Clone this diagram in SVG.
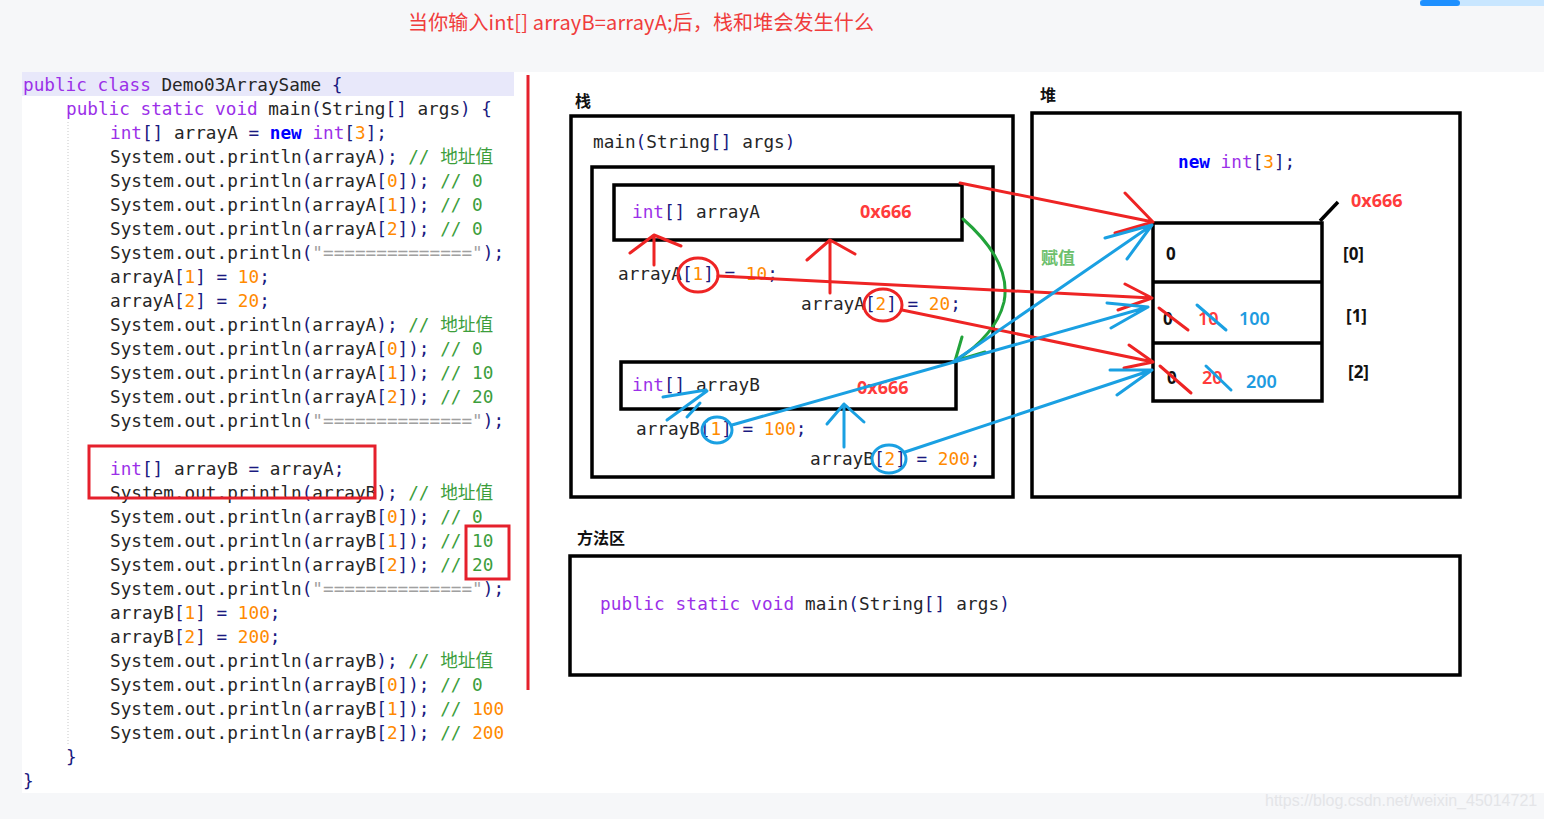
<svg xmlns="http://www.w3.org/2000/svg" width="1544" height="819" viewBox="0 0 1544 819">
<style>
.code{font-family:"DejaVu Sans Mono","Liberation Mono","Noto Sans CJK SC",monospace;font-size:17.7px;fill:#262626;white-space:pre}
.k{fill:#9b30e8}.n{fill:#1a1a80}.o{fill:#ff8a00}.c{fill:#3c9e3c}.s{fill:#a0a0a0}.nw{fill:#0000ff;font-weight:bold}
.box{fill:none;stroke:#000;stroke-width:3.5}
.lbl{font-family:"Noto Sans CJK SC",sans-serif;font-weight:bold;font-size:16px;fill:#111}
.hex{font-family:"Noto Sans","Liberation Sans",sans-serif;font-weight:bold;font-size:18px;fill:#ff3b3b}
.cell{font-family:"Noto Sans","Liberation Sans",sans-serif;font-weight:bold;font-size:17px;fill:#111}
.bl{font-family:"Noto Sans","Liberation Sans",sans-serif;font-size:18px;fill:#1e9be0;font-weight:600}
.rd{font-family:"Noto Sans","Liberation Sans",sans-serif;font-size:18px;fill:#ff3b3b;font-weight:600}
.r{fill:none;stroke:#ee2424;stroke-width:3;stroke-linecap:round;stroke-linejoin:round}
.b{fill:none;stroke:#1aa0e2;stroke-width:3;stroke-linecap:round;stroke-linejoin:round}
.g{fill:none;stroke:#22a33a;stroke-width:3;stroke-linecap:round;stroke-linejoin:round}
.rb{fill:none;stroke:#e5202c;stroke-width:3}
</style>
<defs><clipPath id="cc"><rect x="0" y="60" width="509" height="740"/></clipPath></defs>
<rect x="0" y="0" width="1544" height="819" fill="#f6f7f9"/>
<rect x="22" y="72" width="1522" height="721" fill="#ffffff"/>
<rect x="1420" y="0" width="124" height="6" fill="#c8e6ff"/>
<rect x="1420" y="0" width="40" height="6" rx="3" fill="#1e90ff"/>
<text x="1265" y="806" font-family="Liberation Sans,sans-serif" font-size="16" fill="#e4e5e8">https://blog.csdn.net/weixin_45014721</text>

<g id="title"><text x="408" y="30" font-family="'Noto Sans CJK SC',sans-serif" font-size="20" fill="#f03c3c" textLength="466">当你输入int[] arrayB=arrayA;后，栈和堆会发生什么</text></g>

<rect x="22" y="72" width="492" height="24" fill="#e8e8fa"/>
<g id="code" clip-path="url(#cc)">
<line x1="68" y1="122" x2="68" y2="745" stroke="#c8c8c8" stroke-width="1" stroke-dasharray="1,2"/>
<text class="code" x="23" y="91"><tspan class="k">public class</tspan> Demo03ArraySame <tspan class="n">{</tspan></text>
<text class="code" x="66" y="115"><tspan class="k">public static void</tspan> main<tspan class="n">(</tspan>String<tspan class="n">[]</tspan> args<tspan class="n">) {</tspan></text>
<text class="code" x="110" y="139"><tspan class="k">int</tspan><tspan class="n">[]</tspan> arrayA <tspan class="n">=</tspan> <tspan class="nw">new</tspan> <tspan class="k">int</tspan><tspan class="n">[</tspan><tspan class="o">3</tspan><tspan class="n">];</tspan></text>
<text class="code" x="110" y="163">System.out.println<tspan class="n">(</tspan>arrayA<tspan class="n">);</tspan> <tspan class="c">// 地址值</tspan></text>
<text class="code" x="110" y="187">System.out.println<tspan class="n">(</tspan>arrayA<tspan class="n">[</tspan><tspan class="o">0</tspan><tspan class="n">]);</tspan> <tspan class="c">// 0</tspan></text>
<text class="code" x="110" y="211">System.out.println<tspan class="n">(</tspan>arrayA<tspan class="n">[</tspan><tspan class="o">1</tspan><tspan class="n">]);</tspan> <tspan class="c">// 0</tspan></text>
<text class="code" x="110" y="235">System.out.println<tspan class="n">(</tspan>arrayA<tspan class="n">[</tspan><tspan class="o">2</tspan><tspan class="n">]);</tspan> <tspan class="c">// 0</tspan></text>
<text class="code" x="110" y="259">System.out.println<tspan class="n">(</tspan><tspan class="s">"=============="</tspan><tspan class="n">);</tspan></text>
<text class="code" x="110" y="283">arrayA<tspan class="n">[</tspan><tspan class="o">1</tspan><tspan class="n">]</tspan> <tspan class="n">=</tspan> <tspan class="o">10</tspan><tspan class="n">;</tspan></text>
<text class="code" x="110" y="307">arrayA<tspan class="n">[</tspan><tspan class="o">2</tspan><tspan class="n">]</tspan> <tspan class="n">=</tspan> <tspan class="o">20</tspan><tspan class="n">;</tspan></text>
<text class="code" x="110" y="331">System.out.println<tspan class="n">(</tspan>arrayA<tspan class="n">);</tspan> <tspan class="c">// 地址值</tspan></text>
<text class="code" x="110" y="355">System.out.println<tspan class="n">(</tspan>arrayA<tspan class="n">[</tspan><tspan class="o">0</tspan><tspan class="n">]);</tspan> <tspan class="c">// 0</tspan></text>
<text class="code" x="110" y="379">System.out.println<tspan class="n">(</tspan>arrayA<tspan class="n">[</tspan><tspan class="o">1</tspan><tspan class="n">]);</tspan> <tspan class="c">// 10</tspan></text>
<text class="code" x="110" y="403">System.out.println<tspan class="n">(</tspan>arrayA<tspan class="n">[</tspan><tspan class="o">2</tspan><tspan class="n">]);</tspan> <tspan class="c">// 20</tspan></text>
<text class="code" x="110" y="427">System.out.println<tspan class="n">(</tspan><tspan class="s">"=============="</tspan><tspan class="n">);</tspan></text>
<text class="code" x="110" y="475"><tspan class="k">int</tspan><tspan class="n">[]</tspan> arrayB <tspan class="n">=</tspan> arrayA<tspan class="n">;</tspan></text>
<text class="code" x="110" y="499">System.out.println<tspan class="n">(</tspan>arrayB<tspan class="n">);</tspan> <tspan class="c">// 地址值</tspan></text>
<text class="code" x="110" y="523">System.out.println<tspan class="n">(</tspan>arrayB<tspan class="n">[</tspan><tspan class="o">0</tspan><tspan class="n">]);</tspan> <tspan class="c">// 0</tspan></text>
<text class="code" x="110" y="547">System.out.println<tspan class="n">(</tspan>arrayB<tspan class="n">[</tspan><tspan class="o">1</tspan><tspan class="n">]);</tspan> <tspan class="c">// 10</tspan></text>
<text class="code" x="110" y="571">System.out.println<tspan class="n">(</tspan>arrayB<tspan class="n">[</tspan><tspan class="o">2</tspan><tspan class="n">]);</tspan> <tspan class="c">// 20</tspan></text>
<text class="code" x="110" y="595">System.out.println<tspan class="n">(</tspan><tspan class="s">"=============="</tspan><tspan class="n">);</tspan></text>
<text class="code" x="110" y="619">arrayB<tspan class="n">[</tspan><tspan class="o">1</tspan><tspan class="n">]</tspan> <tspan class="n">=</tspan> <tspan class="o">100</tspan><tspan class="n">;</tspan></text>
<text class="code" x="110" y="643">arrayB<tspan class="n">[</tspan><tspan class="o">2</tspan><tspan class="n">]</tspan> <tspan class="n">=</tspan> <tspan class="o">200</tspan><tspan class="n">;</tspan></text>
<text class="code" x="110" y="667">System.out.println<tspan class="n">(</tspan>arrayB<tspan class="n">);</tspan> <tspan class="c">// 地址值</tspan></text>
<text class="code" x="110" y="691">System.out.println<tspan class="n">(</tspan>arrayB<tspan class="n">[</tspan><tspan class="o">0</tspan><tspan class="n">]);</tspan> <tspan class="c">// 0</tspan></text>
<text class="code" x="110" y="715">System.out.println<tspan class="n">(</tspan>arrayB<tspan class="n">[</tspan><tspan class="o">1</tspan><tspan class="n">]);</tspan> <tspan class="c">// </tspan><tspan class="o">100</tspan></text>
<text class="code" x="110" y="739">System.out.println<tspan class="n">(</tspan>arrayB<tspan class="n">[</tspan><tspan class="o">2</tspan><tspan class="n">]);</tspan> <tspan class="c">// </tspan><tspan class="o">200</tspan></text>
<text class="code" x="66" y="763"><tspan class="n">}</tspan></text>
<text class="code" x="23" y="787"><tspan class="n">}</tspan></text>
</g>
<g id="highlights">
<rect class="rb" x="89" y="446" width="286" height="52"/>
<rect class="rb" x="466" y="526" width="43" height="53"/>
<line x1="528" y1="75" x2="528" y2="690" stroke="#e5202c" stroke-width="3"/>
</g>

<g id="stack">
<text class="lbl" x="575" y="107">栈</text>
<rect class="box" x="571" y="116" width="442" height="381"/>
<text class="code" x="593" y="148">main<tspan class="n">(</tspan>String<tspan class="n">[]</tspan> args<tspan class="n">)</tspan></text>
</g>
<g id="stackFrame">
<rect class="box" x="592" y="167" width="401" height="310"/>
<text class="code" x="618" y="280">arrayA<tspan class="n">[</tspan><tspan class="o">1</tspan><tspan class="n">]</tspan> <tspan class="n">=</tspan> <tspan class="o">10</tspan><tspan class="n">;</tspan></text>
<text class="code" x="801" y="310">arrayA<tspan class="n">[</tspan><tspan class="o">2</tspan><tspan class="n">]</tspan> <tspan class="n">=</tspan> <tspan class="o">20</tspan><tspan class="n">;</tspan></text>
<text class="code" x="636" y="435">arrayB<tspan class="n">[</tspan><tspan class="o">1</tspan><tspan class="n">]</tspan> <tspan class="n">=</tspan> <tspan class="o">100</tspan><tspan class="n">;</tspan></text>
<text class="code" x="810" y="465">arrayB<tspan class="n">[</tspan><tspan class="o">2</tspan><tspan class="n">]</tspan> <tspan class="n">=</tspan> <tspan class="o">200</tspan><tspan class="n">;</tspan></text>
</g>
<g id="arrayA">
<rect class="box" x="614" y="185" width="348" height="55"/>
<text class="code" x="632" y="218"><tspan class="k">int</tspan><tspan class="n">[]</tspan> arrayA</text>
<text class="hex" x="860" y="218">0x666</text>
</g>
<g id="arrayB">
<rect class="box" x="621" y="362" width="335" height="47"/>
<text class="code" x="632" y="391"><tspan class="k">int</tspan><tspan class="n">[]</tspan> arrayB</text>
<text class="hex" x="857" y="394">0x666</text>
</g>

<g id="heap">
<text class="lbl" x="1040" y="101">堆</text>
<rect class="box" x="1032" y="113" width="428" height="384"/>
<text class="code" x="1178" y="168"><tspan class="nw">new</tspan> <tspan class="k">int</tspan><tspan class="n">[</tspan><tspan class="o">3</tspan><tspan class="n">];</tspan></text>
<text x="1041" y="264" font-family="'Noto Sans CJK SC',sans-serif" font-weight="bold" font-size="17" fill="#6cc06c">赋值</text>
</g>
<g id="heapArray">
<rect class="box" x="1153" y="223" width="169" height="178"/>
<line x1="1153" y1="282" x2="1322" y2="282" stroke="#000" stroke-width="3.5"/>
<line x1="1153" y1="343" x2="1322" y2="343" stroke="#000" stroke-width="3.5"/>
<line x1="1320" y1="221" x2="1338" y2="202" stroke="#000" stroke-width="3.5"/>
<text class="hex" x="1351" y="207">0x666</text>
<text class="cell" x="1166" y="260">0</text>
<text class="cell" x="1343" y="260">[0]</text>
<text class="cell" x="1346" y="322">[1]</text>
<text class="cell" x="1348" y="378">[2]</text>
<text class="cell" x="1163" y="325">0</text>
<text class="rd" x="1198" y="325">10</text>
<text class="bl" x="1239" y="325">100</text>
<text class="cell" x="1167" y="384">0</text>
<text class="rd" x="1202" y="384">20</text>
<text class="bl" x="1246" y="388">200</text>
<path class="r" d="M1159 308 L1188 330 M1160 366 L1191 393"/>
<path class="b" d="M1197 305 L1226 330 M1206 366 L1231 390"/>
</g>

<g id="methodArea">
<text class="lbl" x="577" y="544" font-size="17">方法区</text>
<rect class="box" x="570" y="556" width="890" height="119"/>
<text class="code" x="600" y="610" textLength="410"><tspan class="k">public static void</tspan> main<tspan class="n">(</tspan>String<tspan class="n">[]</tspan> args<tspan class="n">)</tspan></text>
</g>

<g id="connectors">
<path class="g" d="M963 219 Q1012 262 1004 302 Q996 335 955 361 M962 337 L955 361 L985 352"/>
<ellipse class="r" cx="698" cy="275" rx="20" ry="17"/>
<ellipse class="r" cx="883" cy="305" rx="19" ry="16"/>
<path class="r" d="M654 265 L654 235 M630 253 L654 235 L681 246"/>
<path class="r" d="M830 293 L830 240 M807 260 L830 240 L855 254"/>
<path class="r" d="M960 183 L1153 222 M1125 193 L1153 222 L1115 233"/>
<path class="r" d="M718 276 L1152 298 M1125 284 L1152 298 L1118 310"/>
<path class="r" d="M902 310 L1153 362 M1129 345 L1153 362 L1124 368"/>
<ellipse class="b" cx="717" cy="430" rx="15" ry="13"/>
<ellipse class="b" cx="889" cy="459" rx="17" ry="14"/>
<path class="b" d="M844 447 L844 404 M827 424 L844 404 L864 422"/>
<path class="b" d="M663 397 L706 390 M667 420 L707 391 M687 417 L700 403"/>
<path class="b" d="M732 425 L1148 307 M1107 303 L1148 307 L1111 328"/>
<path class="b" d="M953 362 L1152 225 M1105 238 L1152 225 L1127 259"/>
<path class="b" d="M905 452 L1152 370 M1110 370 L1152 370 L1117 395"/>
</g>
</svg>
